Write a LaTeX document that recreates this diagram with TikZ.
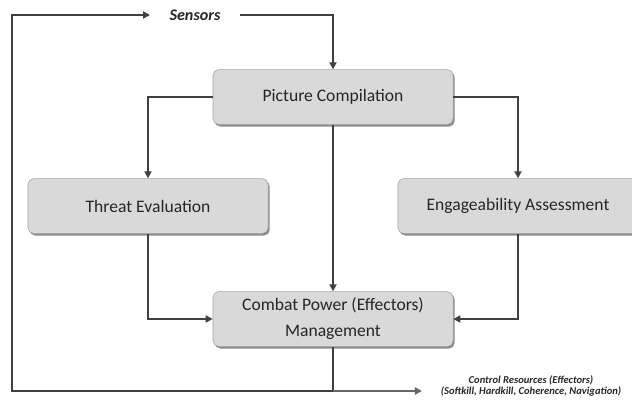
\documentclass[tikz,border=0pt]{standalone}
\usepackage{fontspec}
\setmainfont{Carlito}
\usetikzlibrary{arrows.meta,shadows}

\begin{document}
\begin{tikzpicture}[x=0.025cm,y=-0.025cm,
box/.style={draw=black!35,fill=black!15,rounded corners=4pt,minimum width=6cm,minimum height=1.37cm,
  align=center,font=\fontsize{12.5}{18.5}\selectfont,text=black!85,
  drop shadow={shadow xshift=1.2pt,shadow yshift=-1.5pt,fill=black!45,opacity=1}},
flow/.style={draw=black!75,line width=2.1pt,-{Triangle[length=5pt,width=5pt]}},
note/.style={font=\bfseries\itshape,text=black!85}]
\useasboundingbox (0,0) rectangle (632,407);
% processing steps
\node[box] (pc) at (333,97) {Picture Compilation};
\node[box] (te) at (148,206) {Threat Evaluation};
\node[box] (ea) at (518,206) {Engageability Assessment};
\node[box] (cp) at (333,319) {Combat Power (Effectors)\\Management};
% inputs and outputs
\node[note,font=\bfseries\itshape\fontsize{11.5}{13}\selectfont,inner xsep=0.48cm] (sens) at (195,15) {Sensors};
\node[note,font=\bfseries\itshape\fontsize{7.5}{8.5}\selectfont,align=center] (ctrl) at (531,386)
  {Control Resources (Effectors)\\(Softkill, Hardkill, Coherence, Navigation)};
\coordinate (fb) at (12,391);
\coordinate (outend) at (422,391);
% connectors
\draw[flow] (sens.east) -| (pc.north);
\draw[flow] (pc.west) -| (te.north);
\draw[flow] (pc.east) -| (ea.north);
\draw[flow] (pc.south) -- (cp.north);
\draw[flow] (te.south) |- (cp.west);
\draw[flow] (ea.south) |- (cp.east);
\draw[flow] (cp.south) -- (cp.south |- fb) -- (fb) |- (sens.west);
\draw[flow,draw=black!60,line width=1.2pt] (cp.south |- fb) -- (outend);
\end{tikzpicture}
\end{document}
